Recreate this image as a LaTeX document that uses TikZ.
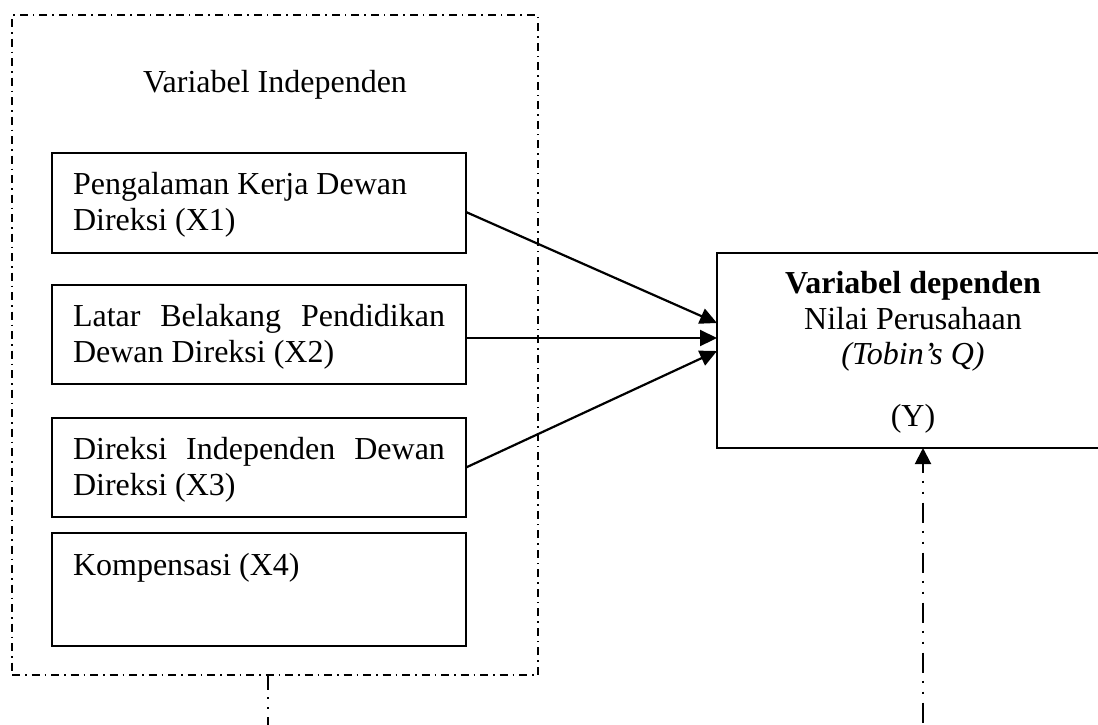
\documentclass[tikz,border=0pt]{standalone}
\usepackage{fontspec}
\setmainfont{Liberation Serif}
\usetikzlibrary{arrows.meta}
\begin{document}
\begin{tikzpicture}[x=1pt,y=-1pt,
  box/.style={draw,line width=2pt,inner sep=0pt,outer sep=0pt,anchor=north west},
  txt/.style={inner sep=0pt,outer sep=0pt,font=\fontsize{32}{36}\selectfont},
  para/.style={txt,text width=372pt,align=flush left,anchor=base west},
  conn/.style={line width=2.2pt,-{Triangle[length=17pt,width=16pt]}},
  dashdot/.style={line width=1.5pt,dash pattern=on 8pt off 5pt on 1.5pt off 5pt},
  dashdotdot/.style={line width=2pt,dash pattern=on 15pt off 7pt on 2pt off 8pt on 2pt off 8pt}
]
\useasboundingbox (0,0) rectangle (1098,724);

% outer group
\node[box,dashdot,minimum width=526pt,minimum height=660pt] (outer) at (12,15) {};
\node[txt,anchor=base] (title) at (275,92) {Variabel Independen};

% independent variable boxes
\node[box,minimum width=414pt,minimum height=100pt] (b1) at (52,153) {};
\node[box,minimum width=414pt,minimum height=99pt] (b2) at (52,285) {};
\node[box,minimum width=414pt,minimum height=99pt] (b3) at (52,418) {};
\node[box,minimum width=414pt,minimum height=113pt] (b4) at (52,533) {};

\node[para] (t1) at (73,194) {Pengalaman Kerja Dewan\\Direksi (X1)};
\node[para] (t2) at (73,326) {\makebox[\linewidth][s]{Latar Belakang Pendidikan}\\Dewan Direksi (X2)};
\node[para] (t3) at (73,459) {\makebox[\linewidth][s]{Direksi Independen Dewan}\\Direksi (X3)};
\node[para] (t4) at (73,575) {Kompensasi (X4)};

% dependent variable box
\node[box,minimum width=392pt,minimum height=195pt] (Y) at (717,253) {};
\node[txt,anchor=base] (y1) at (913,293) {\textbf{Variabel dependen}};
\node[txt,anchor=base] (y2) at (913,329) {Nilai Perusahaan};
\node[txt,anchor=base] (y3) at (913,364) {\textit{(Tobin’s Q)}};
\node[txt,anchor=base] (y4) at (913,426) {(Y)};

% arrows
\draw[conn] ([yshift=-9pt]b1.east) -- ([yshift=27.5pt]Y.west);
\draw[conn] ([yshift=-3.5pt]b2.east) -- ([yshift=12.5pt]Y.west);
\draw[conn] (b3.east) -- ([yshift=-0.5pt]Y.west);

% dash-dot-dot lines at the bottom
\coordinate (bl) at (268,730);
\coordinate (br) at (923,730);
\draw[dashdotdot] ([xshift=-7pt]outer.south) -- (bl);
\draw[line width=2pt,dash pattern=on 20pt off 8pt on 2pt off 9pt on 2pt off 9pt,dash phase=11pt,
  {Triangle[length=16pt,width=16pt]}-] ([xshift=10pt]Y.south) -- (br);
\end{tikzpicture}
\end{document}
